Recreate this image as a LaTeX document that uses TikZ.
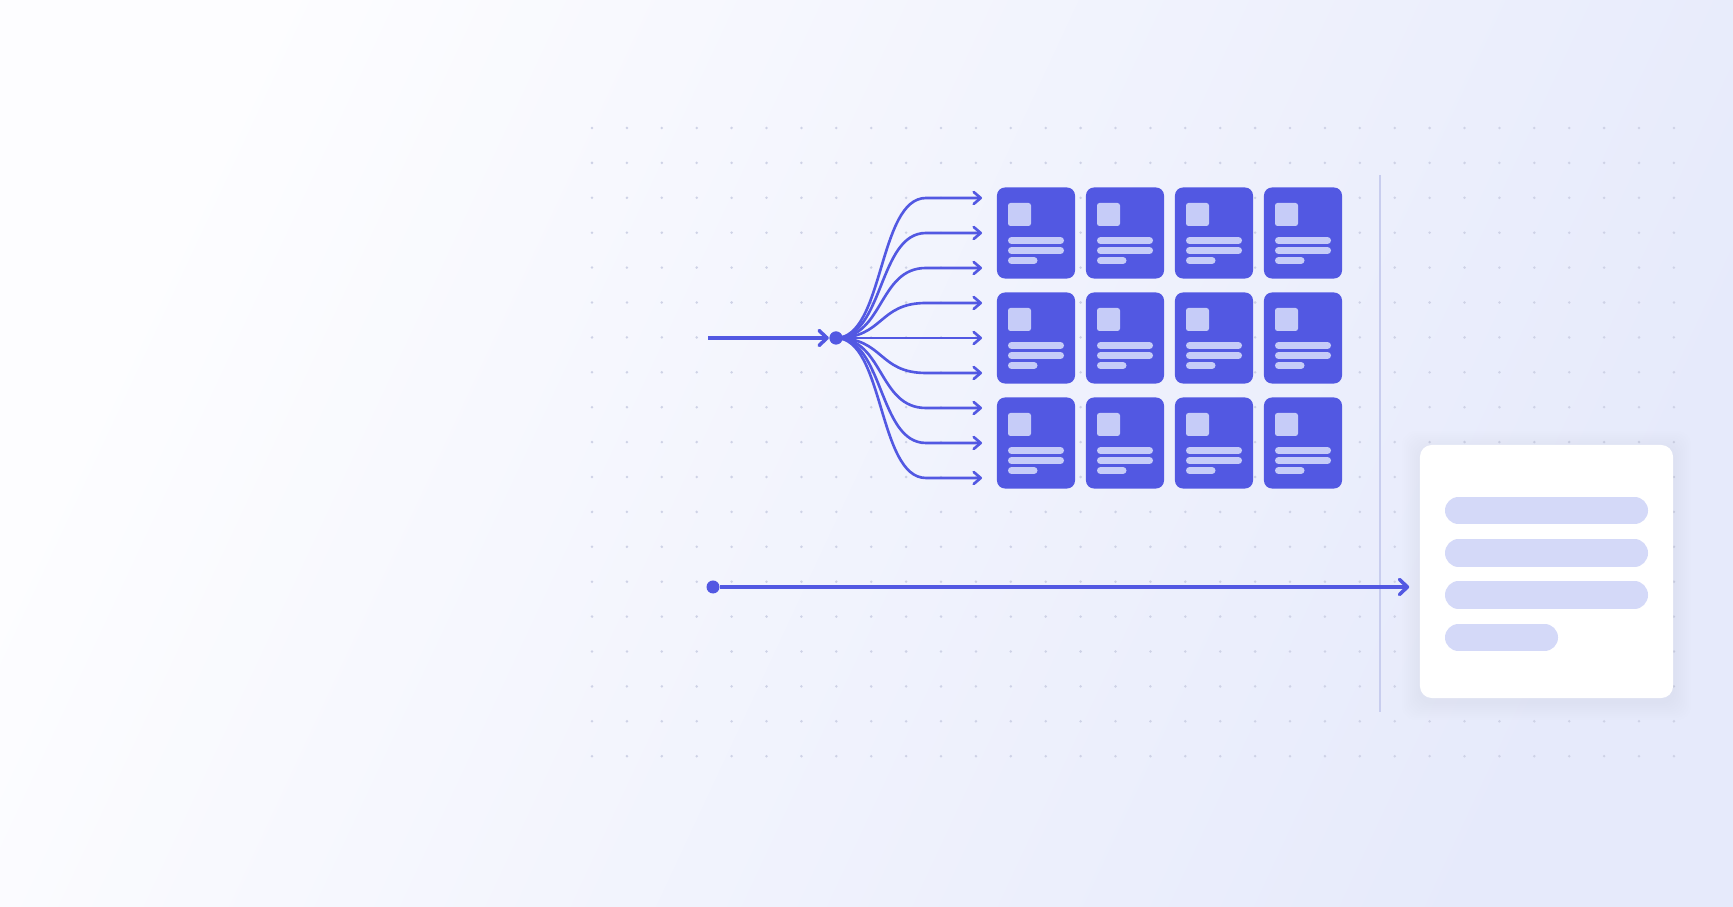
\documentclass[tikz,border=0pt]{standalone}
\usepackage{xcolor}
\usepackage{tikz}
\usetikzlibrary{arrows.meta}
\definecolor{accent}{RGB}{82,88,226}
\definecolor{paper}{RGB}{253,253,255}
\definecolor{haze}{RGB}{230,234,251}
\definecolor{grid}{RGB}{206,210,230}
\definecolor{pale}{RGB}{198,204,248}
\definecolor{barfill}{RGB}{212,217,248}
\definecolor{divider}{RGB}{200,205,238}

\begin{document}
\begin{tikzpicture}[x=0.01cm,y=-0.01cm,
  card/.style={fill=accent,rounded corners=0.08cm,minimum width=0.78cm,minimum height=0.91cm,inner sep=0pt},
  hubdot/.style={circle,fill=accent,minimum size=0.13cm,inner sep=0pt},
  feed/.style={accent,line width=1pt,-{Straight Barb[round,length=0.8mm,width=1.5mm]}},
  fan/.style={accent,line width=0.75pt,-{Straight Barb[round,length=0.7mm,width=1.2mm]}},
  textbar/.style={barfill,line width=0.27cm,line cap=round},
  cardline/.style={pale,line width=0.07cm,line cap=round}]
  % backdrop and dot grid (35 px pitch)
  \shade[top color=paper,bottom color=haze,shading angle=65] (0,0) rectangle (1733,907);
  \foreach \i in {0,...,31} \foreach \j in {0,...,18} \fill[grid] (592+34.9*\i,128+34.9*\j) circle (1.4);
  \draw[divider,line width=0.6pt] (1380,175) -- (1380,712);
  % 3 x 4 cards
  \foreach \r [count=\ri] in {233,338,443} \foreach \c [count=\ci] in {1036,1125,1214,1303} {
    \node[card] (c\ri\ci) at (\c,\r) {};
    \fill[pale,rounded corners=0.025cm] (\c-28,\r-30) rectangle (\c-5,\r-7);
    \draw[cardline] (\c-24.5,\r+7.5) -- (\c+24.5,\r+7.5);
    \draw[cardline] (\c-24.5,\r+17.5) -- (\c+24.5,\r+17.5);
    \draw[cardline] (\c-24.5,\r+27.5) -- (\c-2,\r+27.5);
  }
  % fan-out from the hub
  \coordinate (src) at (708,338);
  \node[hubdot] (hub) at (836,338) {};
  \foreach \y [count=\k] in {198,233,...,478} {
    \coordinate (b\k) at (926,\y);
    \coordinate (t\k) at (982,\y);
    \draw[fan] (hub.center) .. controls +(48,0) and +(-48,0) .. (b\k) -- (t\k);
  }
  \node[hubdot] at (hub) {};
  \draw[feed] (src) -- (hub);
  % result panel, soft shadow first
  \foreach \s in {2,4,...,18} \fill[divider!60!black,opacity=0.008,rounded corners=0.14cm] (1420-\s,445-\s+4) rectangle (1673+\s,698+\s+4);
  \node[fill=white,rounded corners=0.12cm,minimum width=2.53cm,minimum height=2.53cm,inner sep=0pt] (panel) at (1546.5,571.5) {};
  \foreach \y in {510.5,553,595} \draw[textbar] (1458.5,\y) -- (1634.5,\y);
  \draw[textbar] (1458.5,637.5) -- (1544.5,637.5);
  \node[hubdot] (start) at (713,587) {};
  \draw[feed,shorten >=0.1cm] (start) -- (start -| panel.west);
\end{tikzpicture}
\end{document}
